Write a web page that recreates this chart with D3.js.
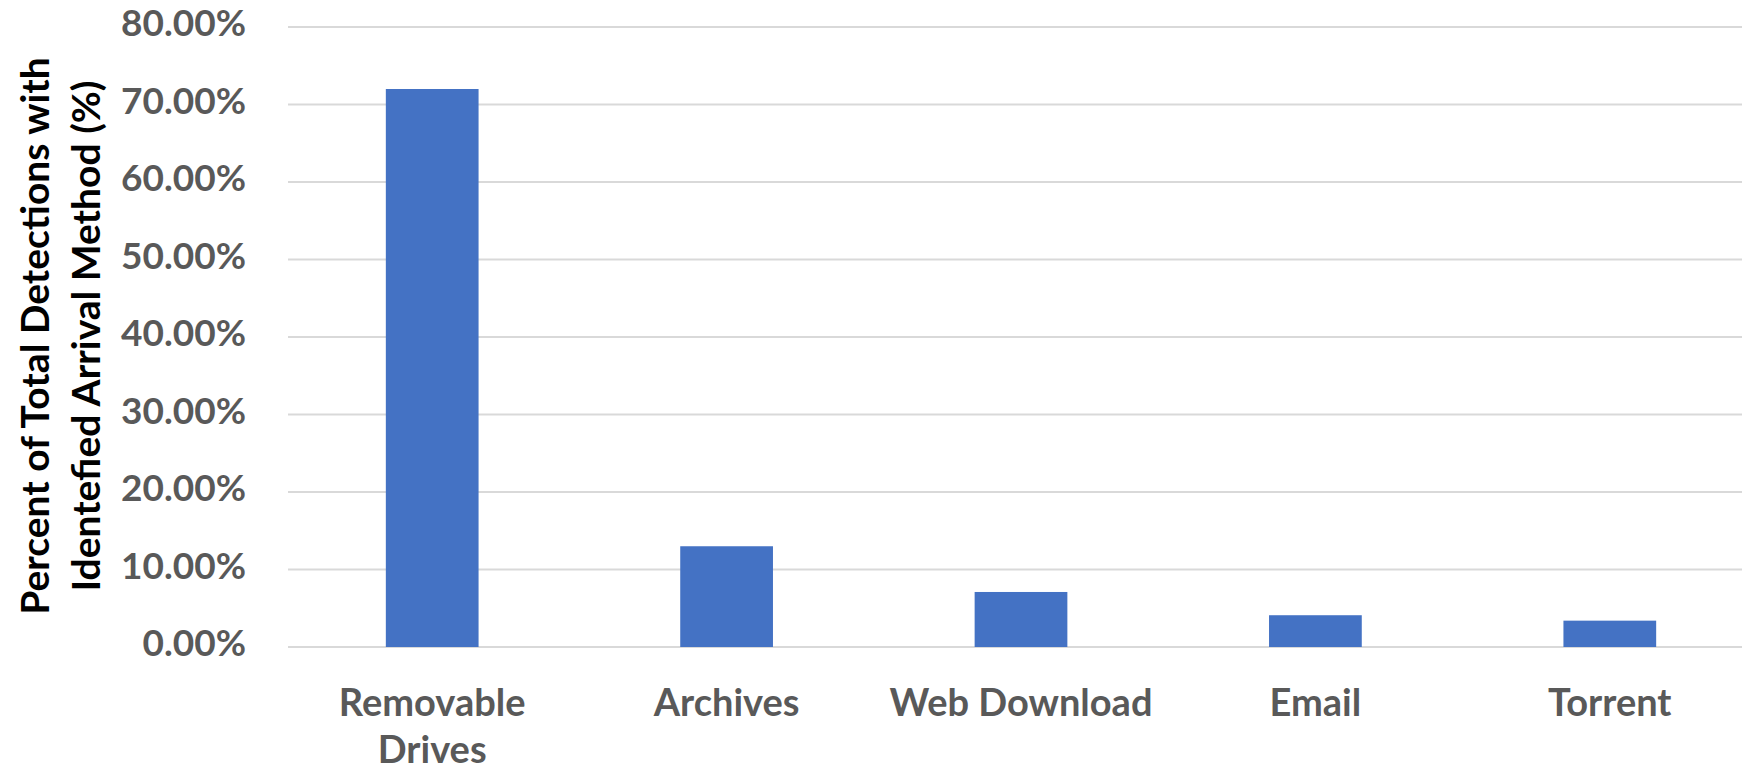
<!DOCTYPE html>
<html>
<head>
<meta charset="utf-8">
<script src="https://cdn.jsdelivr.net/npm/d3@7"></script>
<style>
  html, body { margin: 0; padding: 0; background: #fff; }
  svg { display: block; }
</style>
</head>
<body>
<div id="chart"></div>
<script>
// Données
const categories = ['Removable Drives', 'Archives', 'Web Download', 'Email', 'Torrent'];
const values = [72.0, 13.0, 7.1, 4.1, 3.4];
const yTicks = [0, 10, 20, 30, 40, 50, 60, 70, 80];
const yTitleLines = ['Percent of Total Detections with', 'Identefied Arrival Method (%)'];

const width = 1742;
const height = 771;
const font = 'Lato, "Open Sans", sans-serif';

const svg = d3.select('#chart')
  .append('svg')
  .attr('width', width)
  .attr('height', height);

// Scales
const x = d3.scaleBand()
  .domain(categories)
  .range([285, 1757])
  .paddingInner(0.685)
  .paddingOuter(0.3425);

const y = d3.scaleLinear()
  .domain([0, 80])
  .range([647, 27]);

// Grid lines
svg.append('g')
  .selectAll('line')
  .data(yTicks)
  .enter()
  .append('line')
  .attr('x1', 288)
  .attr('x2', width)
  .attr('y1', d => y(d))
  .attr('y2', d => y(d))
  .attr('stroke', '#d9d9d9')
  .attr('stroke-width', 2);

// Y tick labels
svg.append('g')
  .selectAll('text')
  .data(yTicks)
  .enter()
  .append('text')
  .attr('x', 246)
  .attr('y', d => y(d) + 9)
  .attr('text-anchor', 'end')
  .attr('font-family', font)
  .attr('font-weight', 700)
  .attr('font-size', '37px')
  .attr('fill', '#595959')
  .text(d => d.toFixed(2) + '%');

// Bars
svg.append('g')
  .selectAll('rect')
  .data(categories)
  .enter()
  .append('rect')
  .attr('x', d => x(d))
  .attr('y', (d, i) => y(values[i]))
  .attr('width', x.bandwidth())
  .attr('height', (d, i) => y(0) - y(values[i]))
  .attr('fill', '#4472c4');

// X labels ("Removable Drives" sur deux lignes)
const xLabels = svg.append('g')
  .selectAll('text')
  .data(categories)
  .enter()
  .append('text')
  .attr('y', 716)
  .attr('text-anchor', 'middle')
  .attr('font-family', font)
  .attr('font-weight', 700)
  .attr('font-size', '38px')
  .attr('fill', '#595959');

xLabels.each(function(d) {
  const lines = d === 'Removable Drives' ? ['Removable', 'Drives'] : [d];
  const t = d3.select(this);
  lines.forEach((line, i) => {
    t.append('tspan')
      .attr('x', x(d) + x.bandwidth() / 2)
      .attr('dy', i === 0 ? 0 : 47)
      .text(line);
  });
});

// Y axis title
const title = svg.append('text')
  .attr('transform', 'translate(49, 336) rotate(-90)')
  .attr('text-anchor', 'middle')
  .attr('font-family', font)
  .attr('font-weight', 700)
  .attr('font-size', '39px')
  .attr('fill', '#000');

yTitleLines.forEach((line, i) => {
  title.append('tspan')
    .attr('x', 0)
    .attr('y', i * 51)
    .text(line);
});
</script>
</body>
</html>
